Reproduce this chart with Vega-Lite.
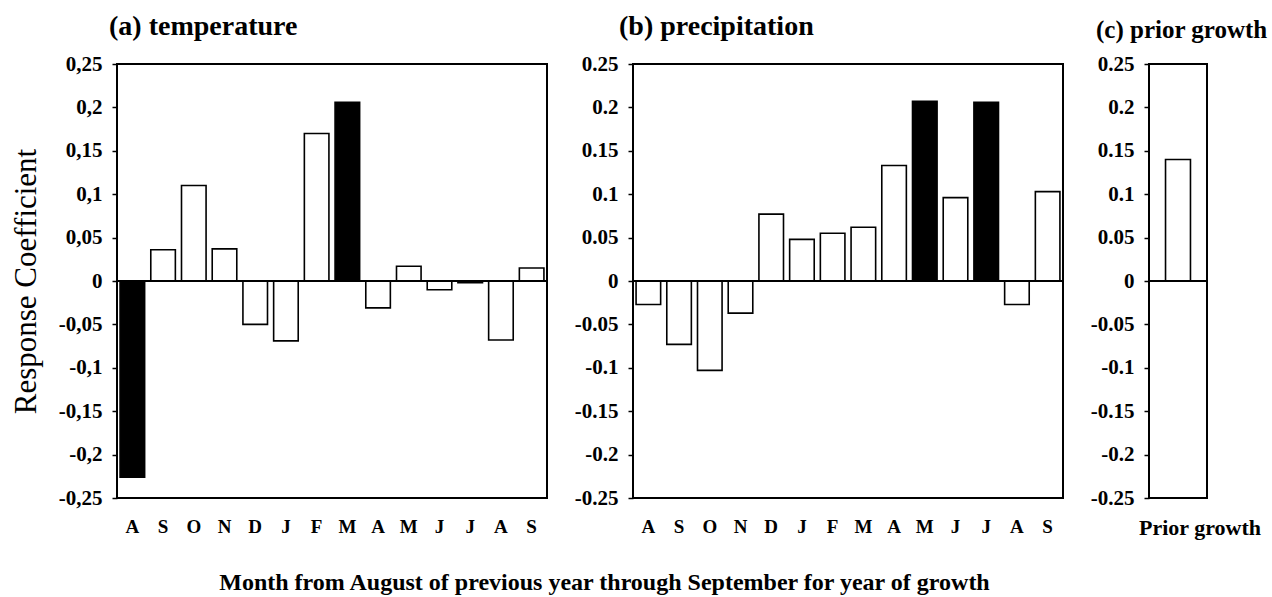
{
  "$schema": "https://vega.github.io/schema/vega-lite/v6.json",
  "background": "white",
  "padding": {"left": 9, "top": 12, "right": 2, "bottom": 2},
  "datasets": {
    "temperature": [
      {"month": "Aug prev", "coef": -0.226, "significant": "yes"},
      {"month": "Sep prev", "coef": 0.036, "significant": "no"},
      {"month": "Oct", "coef": 0.110, "significant": "no"},
      {"month": "Nov", "coef": 0.037, "significant": "no"},
      {"month": "Dec", "coef": -0.050, "significant": "no"},
      {"month": "Jan", "coef": -0.069, "significant": "no"},
      {"month": "Feb", "coef": 0.170, "significant": "no"},
      {"month": "Mar", "coef": 0.206, "significant": "yes"},
      {"month": "Apr", "coef": -0.031, "significant": "no"},
      {"month": "May", "coef": 0.017, "significant": "no"},
      {"month": "Jun", "coef": -0.010, "significant": "no"},
      {"month": "Jul", "coef": -0.002, "significant": "no"},
      {"month": "Aug", "coef": -0.068, "significant": "no"},
      {"month": "Sep", "coef": 0.015, "significant": "no"}
    ],
    "precipitation": [
      {"month": "Aug prev", "coef": -0.027, "significant": "no"},
      {"month": "Sep prev", "coef": -0.073, "significant": "no"},
      {"month": "Oct", "coef": -0.103, "significant": "no"},
      {"month": "Nov", "coef": -0.037, "significant": "no"},
      {"month": "Dec", "coef": 0.077, "significant": "no"},
      {"month": "Jan", "coef": 0.048, "significant": "no"},
      {"month": "Feb", "coef": 0.055, "significant": "no"},
      {"month": "Mar", "coef": 0.062, "significant": "no"},
      {"month": "Apr", "coef": 0.133, "significant": "no"},
      {"month": "May", "coef": 0.207, "significant": "yes"},
      {"month": "Jun", "coef": 0.096, "significant": "no"},
      {"month": "Jul", "coef": 0.206, "significant": "yes"},
      {"month": "Aug", "coef": -0.027, "significant": "no"},
      {"month": "Sep", "coef": 0.103, "significant": "no"}
    ],
    "prior": [
      {"label": "Prior growth", "coef": 0.14, "significant": "no"}
    ],
    "zero": [{"level": 0}]
  },
  "config": {
    "view": {"stroke": "black", "strokeWidth": 2},
    "font": "Liberation Serif",
    "axis": {
      "labelFont": "Liberation Serif",
      "labelFontWeight": "bold",
      "labelColor": "black",
      "titleFont": "Liberation Serif",
      "titleColor": "black",
      "grid": false,
      "domain": false,
      "tickColor": "black",
      "labelOverlap": false,
      "labelFlush": false
    },
    "title": {"font": "Liberation Serif", "fontWeight": "bold", "color": "black", "fontSize": 28}
  },
  "bounds": "flush",
  "spacing": 86,
  "hconcat": [
    {
      "width": 430,
      "height": 434,
      "title": {"text": "(a) temperature", "anchor": "start", "frame": "group", "dx": -8, "offset": -10, "baseline": "alphabetic"},
      "layer": [
        {
          "data": {"name": "temperature"},
          "mark": {"type": "bar", "stroke": "black", "strokeWidth": 1.6},
          "encoding": {
            "x": {
              "field": "month", "type": "nominal", "sort": null,
              "scale": {"paddingInner": 0.2, "paddingOuter": 0.1},
              "axis": {
                "title": "Month from August of previous year through September for year of growth",
                "labelExpr": "substring(datum.label, 0, 1)",
                "labelAngle": 0, "ticks": false, "labelPadding": 19, "labelFontSize": 19,
                "titleFontSize": 24, "titleFontWeight": "bold",
                "titleX": 487, "titleY": 91, "titleAlign": "center", "titleBaseline": "alphabetic"
              }
            },
            "y": {
              "field": "coef", "type": "quantitative",
              "scale": {"domain": [-0.25, 0.25], "nice": false},
              "axis": {
                "values": [-0.25, -0.2, -0.15, -0.1, -0.05, 0, 0.05, 0.1, 0.15, 0.2, 0.25],
                "labelExpr": "replace(replace(format(datum.value, '.2~f'), '.', ','), '\u2212', '-')",
                "tickSize": 5, "tickWidth": 1.5, "labelPadding": 10, "labelFontSize": 21,
                "title": "Response Coefficient", "titleFontSize": 31, "titleFontWeight": "normal", "titlePadding": 16
              }
            },
            "fill": {"field": "significant", "type": "nominal", "scale": {"domain": ["yes", "no"], "range": ["black", "white"]}, "legend": null}
          }
        },
        {
          "data": {"name": "zero"},
          "mark": {"type": "rule", "color": "black", "strokeWidth": 2},
          "encoding": {"y": {"field": "level", "type": "quantitative"}}
        }
      ]
    },
    {
      "width": 430,
      "height": 434,
      "title": {"text": "(b) precipitation", "anchor": "start", "frame": "group", "dx": -14, "offset": -10, "baseline": "alphabetic"},
      "layer": [
        {
          "data": {"name": "precipitation"},
          "mark": {"type": "bar", "stroke": "black", "strokeWidth": 1.6},
          "encoding": {
            "x": {
              "field": "month", "type": "nominal", "sort": null,
              "scale": {"paddingInner": 0.2, "paddingOuter": 0.1},
              "axis": {
                "title": null,
                "labelExpr": "substring(datum.label, 0, 1)",
                "labelAngle": 0, "ticks": false, "labelPadding": 19, "labelFontSize": 19
              }
            },
            "y": {
              "field": "coef", "type": "quantitative",
              "scale": {"domain": [-0.25, 0.25], "nice": false},
              "axis": {
                "values": [-0.25, -0.2, -0.15, -0.1, -0.05, 0, 0.05, 0.1, 0.15, 0.2, 0.25],
                "labelExpr": "replace(format(datum.value, '.2~f'), '\u2212', '-')",
                "tickSize": 5, "tickWidth": 1.5, "labelPadding": 10, "labelFontSize": 21,
                "title": null
              }
            },
            "fill": {"field": "significant", "type": "nominal", "scale": {"domain": ["yes", "no"], "range": ["black", "white"]}, "legend": null}
          }
        },
        {
          "data": {"name": "zero"},
          "mark": {"type": "rule", "color": "black", "strokeWidth": 2},
          "encoding": {"y": {"field": "level", "type": "quantitative"}}
        }
      ]
    },
    {
      "width": 58,
      "height": 434,
      "title": {"text": "(c) prior growth", "anchor": "start", "frame": "group", "dx": -53, "offset": -10, "baseline": "alphabetic", "fontSize": 25},
      "layer": [
        {
          "data": {"name": "prior"},
          "mark": {"type": "bar", "stroke": "black", "strokeWidth": 1.6},
          "encoding": {
            "x": {
              "field": "label", "type": "nominal",
              "scale": {"paddingInner": 0.2, "paddingOuter": 0.53},
              "axis": {"title": null, "labelAngle": 0, "ticks": false, "labelPadding": 19, "labelFontSize": 22, "labelOffset": 22}
            },
            "y": {
              "field": "coef", "type": "quantitative",
              "scale": {"domain": [-0.25, 0.25], "nice": false},
              "axis": {
                "values": [-0.25, -0.2, -0.15, -0.1, -0.05, 0, 0.05, 0.1, 0.15, 0.2, 0.25],
                "labelExpr": "replace(format(datum.value, '.2~f'), '\u2212', '-')",
                "tickSize": 5, "tickWidth": 1.5, "labelPadding": 10, "labelFontSize": 21,
                "title": null
              }
            },
            "fill": {"field": "significant", "type": "nominal", "scale": {"domain": ["yes", "no"], "range": ["black", "white"]}, "legend": null}
          }
        },
        {
          "data": {"name": "zero"},
          "mark": {"type": "rule", "color": "black", "strokeWidth": 2},
          "encoding": {"y": {"field": "level", "type": "quantitative"}}
        }
      ]
    }
  ]
}
